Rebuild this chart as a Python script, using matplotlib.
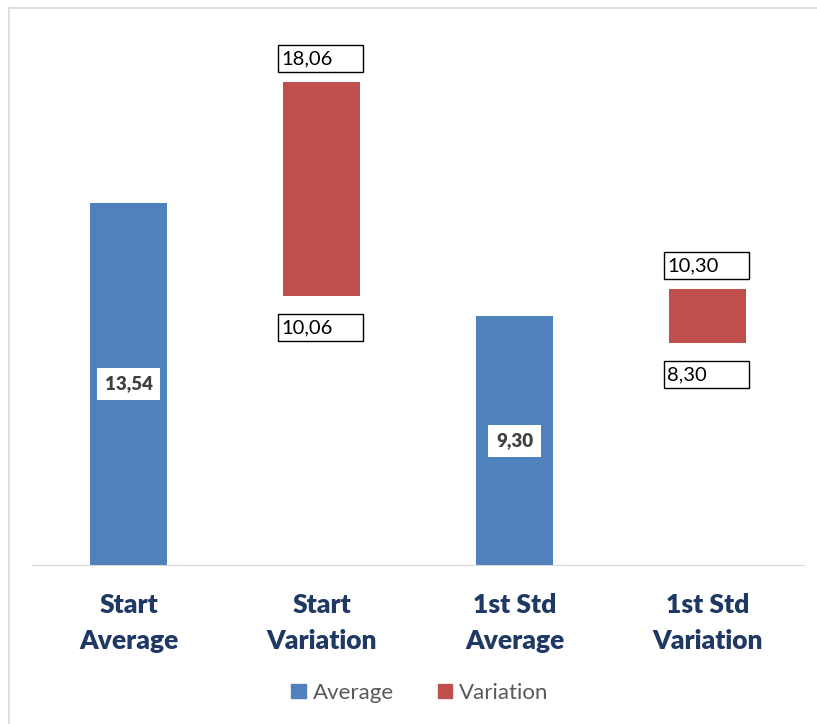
import numpy as np
import matplotlib.pyplot as plt
from matplotlib.patches import Rectangle, Patch
from matplotlib.lines import Line2D

categories = ["Start\nAverage", "Start\nVariation", "1st Std\nAverage", "1st Std\nVariation"]
average = [13.54, np.nan, 9.30, np.nan]
var_low = [np.nan, 10.06, np.nan, 8.30]
var_high = [np.nan, 18.06, np.nan, 10.30]

BLUE = "#4F81BD"
RED = "#C0504D"
NAVY = "#1F3864"
GRID = "#D9D9D9"

plt.rcParams["font.family"] = ["Lato", "DejaVu Sans"]

W, H = 817, 724
fig = plt.figure(figsize=(W / 100, H / 100), dpi=100)
ax = fig.add_axes([32 / W, (H - 565) / H, 772 / W, 535 / H])
ax.set_xlim(-0.5, 3.5)
ax.set_ylim(0, 20)

# pixel -> data unit factors
px_x = 4 / 772
px_y = 20 / 535

x = np.arange(len(categories))
bw = 0.395
avg = np.array(average)
lo = np.array(var_low)
hi = np.array(var_high)

ax.bar(x, avg, width=bw, color=BLUE, label="Average")
ax.bar(x, hi - lo, bottom=lo, width=bw, color=RED, label="Variation")

fmt = lambda v: f"{v:.2f}".replace(".", ",")

# values inside the average bars
for xi, v in zip(x, avg):
    if np.isnan(v):
        continue
    ax.text(xi, v / 2, fmt(v), ha="center", va="center", fontsize=13.5,
            fontweight="heavy", color="#404040",
            bbox=dict(boxstyle="square,pad=0.4", fc="white", ec="none"))

# boxed labels above and below the variation bars
def boxed(xl, ybottom, v):
    w, h = 85 * px_x, 27 * px_y
    ax.add_patch(Rectangle((xl, ybottom), w, h, fc="white", ec="black",
                           lw=1.0, zorder=3, clip_on=False))
    ax.text(xl + 3 * px_x, ybottom + h / 2, fmt(v), ha="left", va="center",
            fontsize=14.5, color="black", zorder=4)

for xi, l, h in zip(x, lo, hi):
    if np.isnan(l):
        continue
    left = xi - bw / 2 - 5 * px_x
    boxed(left, h + 10 * px_y, h)
    boxed(left, l - 18 * px_y - 27 * px_y, l)

for s in ax.spines.values():
    s.set_visible(False)
ax.spines["bottom"].set_visible(True)
ax.spines["bottom"].set_color(GRID)
ax.set_yticks([])
ax.set_xticks(x)
ax.set_xticklabels(categories, fontsize=19, fontweight="heavy", color=NAVY,
                   linespacing=1.6)
ax.tick_params(axis="x", length=0, pad=20)

handles = [Patch(color=BLUE, label="Average"), Patch(color=RED, label="Variation")]
leg = fig.legend(handles=handles, loc="center", bbox_to_anchor=(0.514, 0.043),
                 ncol=2, frameon=False, fontsize=16, handlelength=0.65,
                 handleheight=0.65, handletextpad=0.3, columnspacing=2.0)
for t in leg.get_texts():
    t.set_color("#595959")

# chart area border (top and left edges)
fig.add_artist(Line2D([8.5 / W, 1], [1 - 7.5 / H, 1 - 7.5 / H], color=GRID, lw=1.2))
fig.add_artist(Line2D([8.5 / W, 8.5 / W], [0, 1 - 7.5 / H], color=GRID, lw=1.2))

fig.savefig("out.png", dpi=100)
